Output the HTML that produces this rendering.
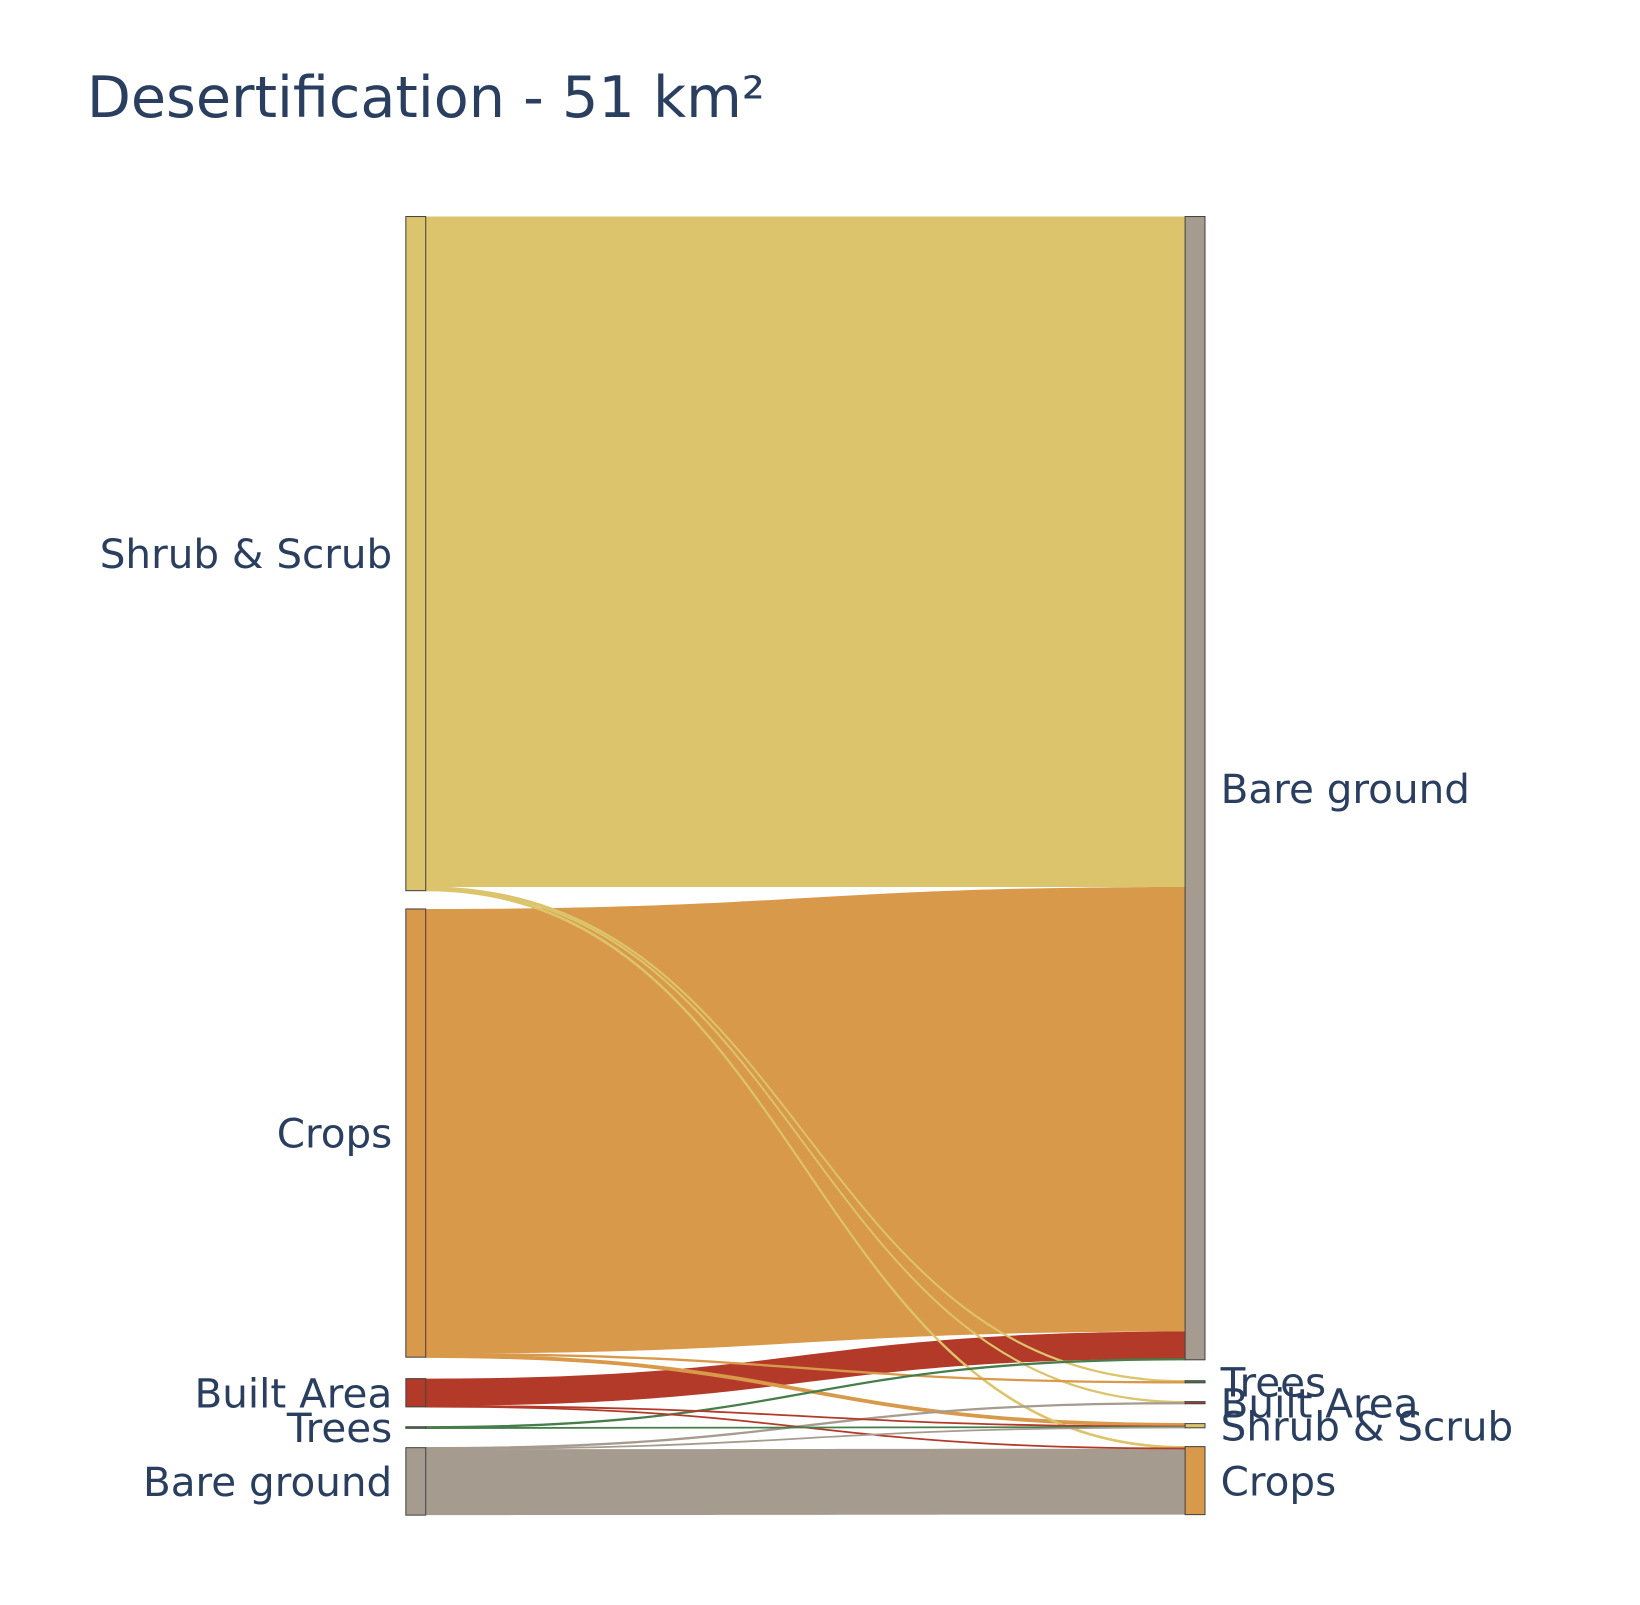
<!DOCTYPE html>
<html><head><meta charset="utf-8">
<style>
html,body{margin:0;padding:0;background:#fff;}
svg text{font-family:"DejaVu Sans","Liberation Sans",sans-serif;fill:#2a3f5f;}
</style></head>
<body>
<svg id="chart" width="1640" height="1600" xmlns="http://www.w3.org/2000/svg">
<rect width="1640" height="1600" fill="#fff"/>
<g transform="scale(1.046)">
<text x="83" y="112" font-size="54.7">Desertification - 51 km²</text>
<g id="links"></g>
<g id="nodes"></g>
<g id="labels"></g>
</g>
</svg>
<script>
const nodeNames = ["Shrub & Scrub","Crops","Built Area","Trees","Bare ground"];
const nodeColors = ["#dcc46c","#d9994a","#b33a28","#467d4a","#a59c8f"];
const linkSource = [0,0,0,0,1,1,1,2,2,2,3,3,4,4,4];
const linkTarget = [4,3,2,1,4,3,0,4,0,1,4,0,2,0,1];
const linkValue  = [641,1,1,1.5,425,1,2.5,26,0.5,0.5,1,0.5,1,0.5,63];

const NS="http://www.w3.org/2000/svg";
const xL0=388,xL1=407,xR0=1133,xR1=1152;
const leftTops=[207,869,1318,1364,1384];
const rightTops=[1361,1383,1340,1320,207];
const outSum=nodeNames.map(()=>0), inSum=nodeNames.map(()=>0);
linkValue.forEach((v,i)=>{outSum[linkSource[i]]+=v;inSum[linkTarget[i]]+=v;});
const outOff=leftTops.slice(), inOff=rightTops.slice();
const links=document.getElementById('links');
const order=linkValue.map((v,i)=>i);
const srcY={},tgtY={};
order.forEach(i=>{srcY[i]=outOff[linkSource[i]];outOff[linkSource[i]]+=linkValue[i];});
[...order].sort((a,b)=>linkSource[a]-linkSource[b]).forEach(i=>{tgtY[i]=inOff[linkTarget[i]];inOff[linkTarget[i]]+=linkValue[i];});
[...order].sort((a,b)=>linkValue[b]-linkValue[a]).forEach(i=>{
  const v=linkValue[i],y0=srcY[i],y1=tgtY[i],xm=(xL1+xR0)/2;
  const p=document.createElementNS(NS,'path');
  p.setAttribute('d',`M${xL1},${y0} C${xm},${y0} ${xm},${y1} ${xR0},${y1} L${xR0},${y1+v} C${xm},${y1+v} ${xm},${y0+v} ${xL1},${y0+v} Z`);
  p.setAttribute('fill',nodeColors[linkSource[i]]);
  p.setAttribute('stroke',nodeColors[linkSource[i]]);
  p.setAttribute('stroke-width',v<5?'1.2':'0');
  
  
  links.appendChild(p);
});
const nodes=document.getElementById('nodes'),labels=document.getElementById('labels');
nodeNames.forEach((n,k)=>{
  const slug=n.replace(/\W+/g,'-').toLowerCase();
  [[xL0,leftTops[k],outSum[k],'source'],[xR0,rightTops[k],inSum[k],'target']].forEach(([x,y,h,side])=>{
    const r=document.createElementNS(NS,'rect');
    r.setAttribute('x',x);r.setAttribute('y',y);r.setAttribute('width',xL1-xL0);
    r.setAttribute('height',Math.max(h,1));
    r.setAttribute('fill',nodeColors[k]);r.setAttribute('stroke','#444');r.setAttribute('stroke-width','1');
    
    
    nodes.appendChild(r);
    const t=document.createElementNS(NS,'text');
    t.textContent=n;t.setAttribute('font-size','38.7');
    t.setAttribute('y',y+Math.max(h,1)/2+14);
    if(side==='source'){t.setAttribute('x',375);t.setAttribute('text-anchor','end');}
    else{t.setAttribute('x',1167);}
    
    
    labels.appendChild(t);
  });
});
</script>
</body></html>
